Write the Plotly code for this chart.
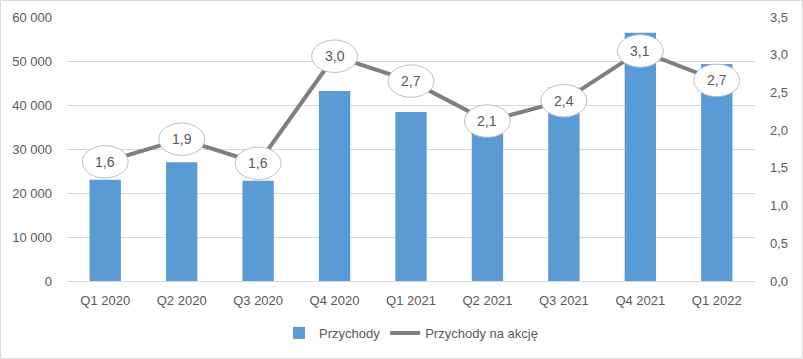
import plotly.graph_objects as go

categories = ["Q1 2020", "Q2 2020", "Q3 2020", "Q4 2020", "Q1 2021",
              "Q2 2021", "Q3 2021", "Q4 2021", "Q1 2022"]
revenue = [23000, 27000, 22800, 43200, 38400, 34000, 44000, 56400, 49300]
eps = [1.58, 1.88, 1.56, 2.98, 2.65, 2.12, 2.39, 3.05, 2.66]
eps_labels = ["1,6", "1,9", "1,6", "3,0", "2,7", "2,1", "2,4", "3,1", "2,7"]

TXT = "#595959"
FONT = "Liberation Sans"
FS = 13

fig = go.Figure()
fig.add_trace(go.Bar(x=categories, y=revenue, name="Przychody",
                     marker=dict(color="#5b9bd5", line=dict(width=0)), yaxis="y"))
fig.add_trace(go.Scatter(x=categories, y=eps, name="Przychody na akcję", mode="lines",
                         line=dict(color="#7f7f7f", width=4), yaxis="y2"))

shapes = []
annotations = []
for i, (v, lab) in enumerate(zip(eps, eps_labels)):
    shapes.append(dict(type="circle", xref="x", yref="y2",
                       x0=i - 0.30, x1=i + 0.30, y0=v - 0.215, y1=v + 0.215,
                       fillcolor="white", line=dict(color="#bfbfbf", width=1),
                       layer="above"))
    annotations.append(dict(x=categories[i], y=v, xref="x", yref="y2", text=lab,
                            showarrow=False, font=dict(family=FONT, size=FS + 1, color=TXT)))

# outer chart border
L, R, T, B = 67, 755, 17, 281
pw, ph = R - L, B - T
shapes.append(dict(type="rect", xref="paper", yref="paper",
                   x0=(0.5 - L) / pw, x1=(802.5 - L) / pw,
                   y0=(B - 358.5) / ph, y1=(B - 0.5) / ph,
                   line=dict(color="#d9d9d9", width=1), fillcolor="rgba(0,0,0,0)",
                   layer="below"))

fig.update_layout(
    width=803, height=359,
    margin=dict(l=L, r=803 - R, t=T, b=359 - B, autoexpand=False),
    paper_bgcolor="white", plot_bgcolor="white",
    separators=", ",
    bargap=0.59,
    font=dict(family=FONT, size=FS, color=TXT),
    showlegend=True,
    legend=dict(orientation="h", x=0.5, xanchor="center", y=(B - 333) / ph,
                yanchor="middle", font=dict(family=FONT, size=FS, color=TXT),
                traceorder="normal"),
    xaxis=dict(type="category", showgrid=False, showline=True, linecolor="#d9d9d9",
               ticks="", tickfont=dict(family=FONT, size=FS, color=TXT),
               ticklabelstandoff=7, automargin=False),
    yaxis=dict(range=[0, 60000], dtick=10000, tickformat=",d", showgrid=True,
               gridcolor="#d9d9d9", zeroline=False, ticks="", ticklabelstandoff=14,
               automargin=False, tickfont=dict(family=FONT, size=FS, color=TXT)),
    yaxis2=dict(range=[0, 3.5], dtick=0.5, tickformat=".1f", overlaying="y", side="right",
                showgrid=False, zeroline=False, ticks="", ticklabelstandoff=14,
                automargin=False, tickfont=dict(family=FONT, size=FS, color=TXT)),
    shapes=shapes,
    annotations=annotations,
)

fig.write_html("out.html", config={"displayModeBar": False},
               post_script="document.body.style.margin='0';document.body.style.overflow='hidden';")
